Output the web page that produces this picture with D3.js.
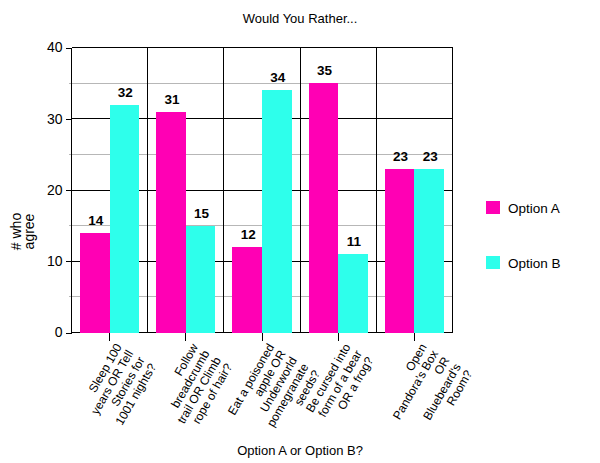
<!DOCTYPE html>
<html>
<head>
<meta charset="utf-8">
<style>
  body { margin: 0; background: #fff; }
  text { font-family: "Liberation Sans", Arial, sans-serif; fill: #000; }
  .grid-minor { stroke: #b7b7b7; }
  .grid-major { stroke: #000; }
</style>
</head>
<body>
<svg class="chart"></svg>
<script src="https://d3js.org/d3.v7.min.js"></script>
<script>
// data
const questions = [
    ["Sleep 100", "years OR Tell", "Stories for", "1001 nights?"],
    ["Follow", "breadcrumb", "trail OR Climb", "rope of hair?"],
    ["Eat a poisoned", "apple OR", "Underworld", "pomegranate", "seeds?"],
    ["Be cursed into", "form of a bear", "OR a frog?"],
    ["Open", "Pandora's Box", "OR", "Bluebeard's", "Room?"]
];
const seriesNames = ["Option A", "Option B"];
const optionA = [14, 31, 12, 35, 23];
const optionB = [32, 15, 34, 11, 23];
const majorTicks = [0, 10, 20, 30, 40];
const minorTicks = [5, 15, 25, 35];

const colors = ["#ff00b4", "#2effeb"];

let width = 600, height = 463;
let plot = { left: 71.5, right: 452.5, top: 47.5, bottom: 332.5 };

let svg = d3.select(".chart")
    .attr("width", width)
    .attr("height", height);

let x = d3.scaleBand()
    .domain(d3.range(questions.length))
    .range([plot.left, plot.right]);

let xInner = d3.scaleBand()
    .domain(d3.range(seriesNames.length))
    .range([0, x.bandwidth()])
    .paddingInner(0)
    .paddingOuter(0.29);

let y = d3.scaleLinear()
    .domain([0, 40])
    .range([plot.bottom, plot.top]);

// gridlines
svg.append("g").selectAll("line")
    .data(minorTicks)
    .join("line")
    .attr("class", "grid-minor")
    .attr("x1", plot.left - 3).attr("x2", plot.right)
    .attr("y1", d => y(d)).attr("y2", d => y(d))
    .attr("shape-rendering", "crispEdges");

svg.append("g").selectAll("line")
    .data(majorTicks)
    .join("line")
    .attr("class", "grid-major")
    .attr("x1", plot.left).attr("x2", plot.right)
    .attr("y1", d => y(d)).attr("y2", d => y(d))
    .attr("shape-rendering", "crispEdges");

// vertical separators + right border
svg.append("g").selectAll("line")
    .data(d3.range(1, questions.length + 1))
    .join("line")
    .attr("stroke", "#000")
    .attr("x1", d => d < questions.length ? x(d) : plot.right)
    .attr("x2", d => d < questions.length ? x(d) : plot.right)
    .attr("y1", plot.top).attr("y2", plot.bottom)
    .attr("shape-rendering", "crispEdges");

// bars
let rows = questions.map((q, i) => [optionA[i], optionB[i]]);

let groups = svg.append("g").selectAll("g")
    .data(rows)
    .join("g")
    .attr("transform", (d, i) => "translate(" + x(i) + ",0)");

groups.selectAll("rect")
    .data(d => d)
    .join("rect")
    .attr("x", (d, j) => xInner(j))
    .attr("width", xInner.bandwidth())
    .attr("y", d => y(d))
    .attr("height", d => y(0) - y(d))
    .attr("fill", (d, j) => colors[j])
    .attr("shape-rendering", "crispEdges");

groups.selectAll("text")
    .data(d => d)
    .join("text")
    .attr("x", (d, j) => xInner(j) + xInner.bandwidth() / 2 + 1)
    .attr("y", d => y(d) - 8)
    .attr("text-anchor", "middle")
    .style("font-size", "13.5px")
    .style("font-weight", "bold")
    .text(d => d);

// y axis
let yAxis = d3.axisLeft(y)
    .tickValues(majorTicks)
    .tickSize(6)
    .tickPadding(3);

let gy = svg.append("g")
    .attr("transform", "translate(" + plot.left + ",0)")
    .call(yAxis);
gy.select(".domain").remove();
gy.selectAll(".tick line").attr("shape-rendering", "crispEdges");
gy.selectAll(".tick text")
    .style("font-size", "14px")
    .style("font-family", "'Liberation Sans', Arial, sans-serif");

svg.append("line")
    .attr("stroke", "#000")
    .attr("x1", plot.left).attr("x2", plot.left)
    .attr("y1", plot.top).attr("y2", plot.bottom)
    .attr("shape-rendering", "crispEdges");

// x axis ticks
let xAxis = d3.axisBottom(x)
    .tickFormat("")
    .tickSize(8);

let gx = svg.append("g")
    .attr("transform", "translate(0," + plot.bottom + ")")
    .call(xAxis);
gx.select(".domain").remove();
gx.selectAll(".tick line").attr("shape-rendering", "crispEdges");

// slanted multiline category labels
let lineHeight = 13.2;
svg.append("g").selectAll("text")
    .data(questions)
    .join("text")
    .attr("transform", (d, i) => "translate(" + (x(i) + x.bandwidth() / 2) + "," + plot.bottom + ") rotate(-60)")
    .attr("text-anchor", "end")
    .style("font-size", "12px")
    .selectAll("tspan")
    .data(d => d)
    .join("tspan")
    .attr("x", -6)
    .attr("y", (d, k) => 18 + k * lineHeight)
    .text(d => d);

// titles
svg.append("text")
    .attr("x", width / 2)
    .attr("y", 23)
    .attr("text-anchor", "middle")
    .style("font-size", "13px")
    .text("Would You Rather...");

svg.append("text")
    .attr("x", width / 2)
    .attr("y", 455)
    .attr("text-anchor", "middle")
    .style("font-size", "13px")
    .text("Option A or Option B?");

let yTitle = svg.append("text")
    .attr("transform", "translate(0," + (height / 2) + ") rotate(-90)")
    .attr("text-anchor", "middle")
    .style("font-size", "14px");
yTitle.append("tspan").attr("x", 0).attr("y", 21).text("# who");
yTitle.append("tspan").attr("x", 0).attr("y", 34).text("agree");

// legend
let legend = svg.append("g").selectAll("g")
    .data(seriesNames)
    .join("g")
    .attr("transform", (d, i) => "translate(486," + (201 + i * 55) + ")");

legend.append("rect")
    .attr("width", 14)
    .attr("height", 13)
    .attr("fill", (d, i) => colors[i]);

legend.append("text")
    .attr("x", 22)
    .attr("y", 12)
    .style("font-size", "13.5px")
    .text(d => d);
</script>
</body>
</html>
